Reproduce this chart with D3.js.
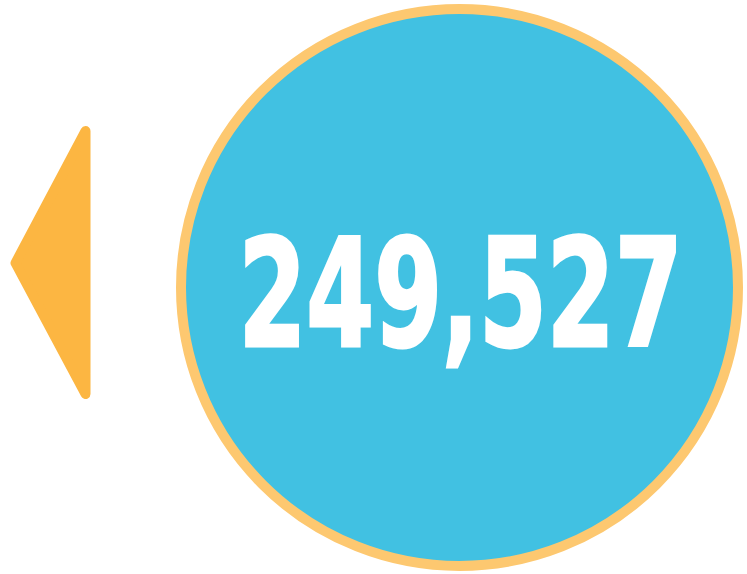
<!DOCTYPE html>
<html>
<head>
<meta charset="utf-8">
<script src="https://cdn.jsdelivr.net/npm/d3@7"></script>
<style>
  body { margin: 0; background: #fff; }
</style>
</head>
<body>
<svg id="chart"></svg>
<script>
// Figure values
var totals = [249527];
var labels = totals.map(d3.format(","));

// Canvas size
var width = 747;
var height = 574;

var svg = d3.select("#chart")
    .attr("width", width)
    .attr("height", height);

// Circle position
var cx = 459.5, cy = 287.5, r = 278.5;

svg.selectAll(".bubble")
    .data(totals)
  .enter().append("circle")
    .attr("class", "bubble")
    .attr("cx", cx)
    .attr("cy", cy)
    .attr("r", r)
    .style("fill", "#41c1e2")
    .style("stroke", "#fdc870")
    .style("stroke-width", 10);

// Left arrow, rounded corners via round join
var arrow = d3.line()([[85.5, 131], [15.5, 263], [85.5, 394]]);
svg.append("path")
    .attr("d", arrow + "Z")
    .style("fill", "#fcb642")
    .style("stroke", "#fcb642")
    .style("stroke-width", 10)
    .style("stroke-linejoin", "round");

// Number
svg.selectAll(".value")
    .data(labels)
  .enter().append("text")
    .attr("class", "value")
    .attr("x", 460.5)
    .attr("y", 345.5)
    .attr("text-anchor", "middle")
    .attr("textLength", 444)
    .attr("lengthAdjust", "spacingAndGlyphs")
    .style("font-family", "'Liberation Sans Narrow', 'DejaVu Sans Condensed', sans-serif")
    .style("font-weight", "bold")
    .style("font-size", "150px")
    .style("fill", "#fff")
    .style("stroke", "#fff")
    .style("stroke-width", 3)
    .text(function(d) { return d; });
</script>
</body>
</html>
